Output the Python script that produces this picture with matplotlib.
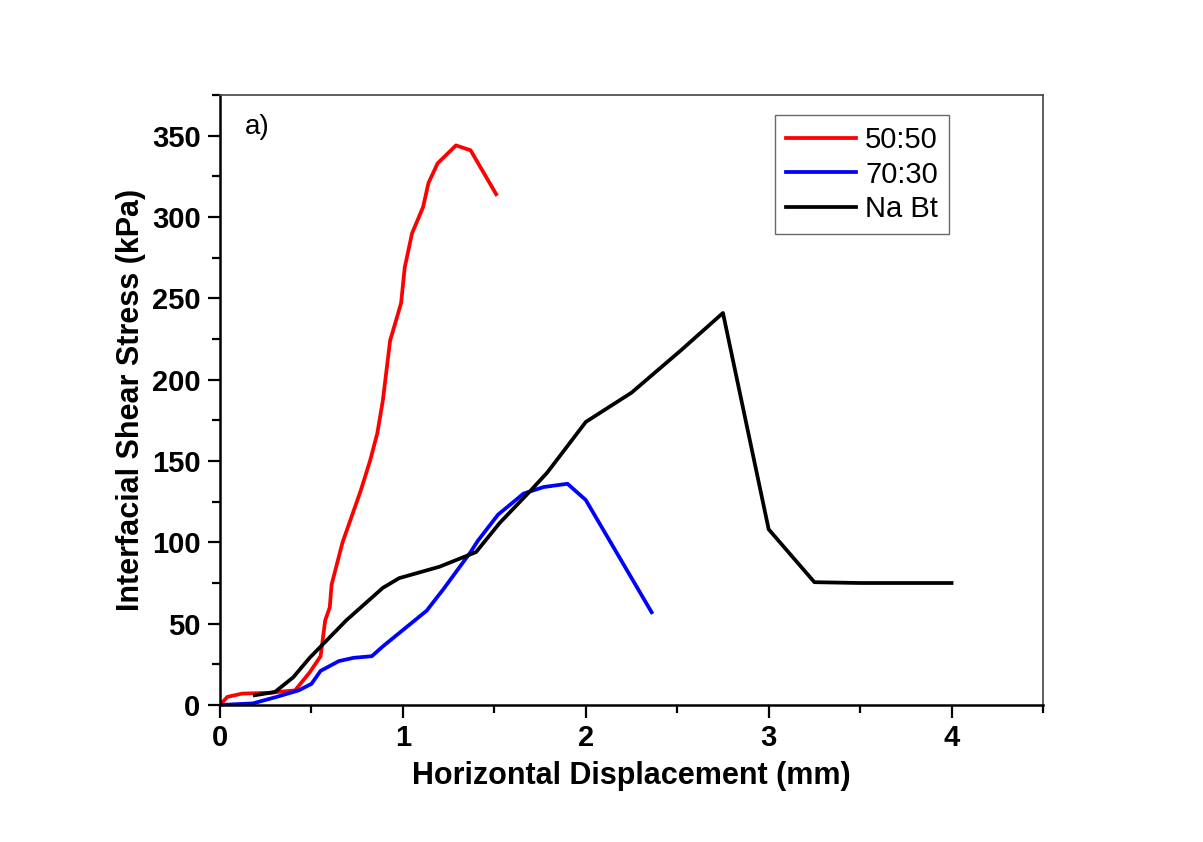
import matplotlib.pyplot as plt
from matplotlib.ticker import MultipleLocator

plt.rcParams['font.family'] = ['Liberation Sans', 'DejaVu Sans']

# 50:50
x_5050 = [0.0, 0.04, 0.12, 0.27, 0.41, 0.49, 0.55, 0.575, 0.60, 0.61, 0.67, 0.77, 0.82,
          0.86, 0.89, 0.93, 0.99, 1.01, 1.05, 1.11, 1.14, 1.19, 1.29, 1.37, 1.51]
y_5050 = [0, 5, 7, 7.5, 9, 20, 30, 52, 60, 74, 100, 132, 150,
          167, 187, 224, 247, 269, 290, 306, 321, 333, 344, 341, 314]

# 70:30
x_7030 = [0.0, 0.18, 0.31, 0.43, 0.50, 0.55, 0.65, 0.73, 0.83, 0.89, 1.13, 1.22, 1.37,
          1.41, 1.52, 1.66, 1.77, 1.90, 2.0, 2.36]
y_7030 = [0, 1, 5, 9, 13, 21, 27, 29, 30, 36, 58, 71, 94,
          101, 117, 130, 134, 136, 126, 57]

# Na Bt
x_nabt = [0.19, 0.30, 0.40, 0.49, 0.69, 0.89, 0.98, 1.20, 1.40, 1.53, 1.70, 1.79,
          2.0, 2.25, 2.52, 2.75, 3.0, 3.25, 3.5, 4.0]
y_nabt = [6, 8, 17, 29, 52, 72, 78, 85, 94, 112, 132, 143,
          174, 192, 218, 241, 108, 75.5, 75, 75]

fig = plt.figure(figsize=(12.03, 8.42), dpi=100)
ax = fig.add_axes([0.1829, 0.1627, 0.6841, 0.7245])

lw = 2.7
ax.plot(x_5050, y_5050, color='#ff0000', lw=lw, label='50:50')
ax.plot(x_7030, y_7030, color='#0000ff', lw=lw, label='70:30')
ax.plot(x_nabt, y_nabt, color='black', lw=lw, label='Na Bt')

ax.set_xlim(0, 4.5)
ax.set_ylim(0, 375)
ax.xaxis.set_major_locator(MultipleLocator(1))
ax.xaxis.set_minor_locator(MultipleLocator(0.5))
ax.yaxis.set_major_locator(MultipleLocator(50))
ax.yaxis.set_minor_locator(MultipleLocator(25))

ax.tick_params(which='major', direction='out', length=9, width=1.6, labelsize=21, pad=5)
ax.tick_params(which='minor', direction='out', length=6, width=1.6)
for lab in ax.get_xticklabels() + ax.get_yticklabels():
    lab.set_fontweight('bold')

ax.spines['left'].set_linewidth(1.8)
ax.spines['bottom'].set_linewidth(1.8)
ax.spines['top'].set_linewidth(1.2)
ax.spines['right'].set_linewidth(1.2)
ax.spines['top'].set_color('#444444')
ax.spines['right'].set_color('#444444')

ax.set_xlabel('Horizontal Displacement (mm)', fontsize=22, fontweight='bold', labelpad=6)
ax.set_ylabel('Interfacial Shear Stress (kPa)', fontsize=22, fontweight='bold', labelpad=4)

ax.text(0.03, 0.947, 'a)', transform=ax.transAxes, fontsize=20, va='center')

leg = ax.legend(loc='upper right', bbox_to_anchor=(0.886, 0.967), fontsize=21,
                frameon=True, fancybox=False, edgecolor='#444444', handlelength=2.4,
                borderpad=0.38, labelspacing=0.22, handletextpad=0.3, borderaxespad=0)
leg.get_frame().set_linewidth(1.0)

fig.savefig('out.png', dpi=100)
